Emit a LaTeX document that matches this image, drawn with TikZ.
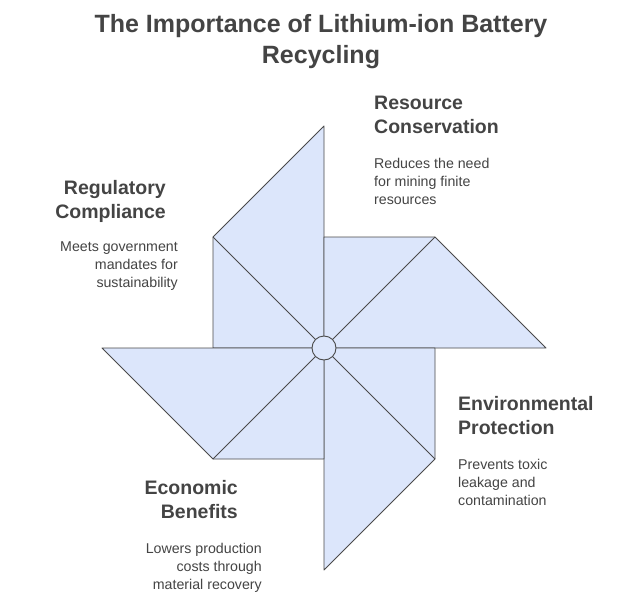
\documentclass[tikz,border=0pt]{standalone}
\usepackage{fontspec}
\setmainfont{Liberation Sans}
\definecolor{blade}{HTML}{DCE6FB}
\definecolor{edge}{HTML}{4A4A4A}
\definecolor{txt}{HTML}{444444}
\begin{document}
\begin{tikzpicture}[x=1pt,y=-1pt,
  bladest/.style={fill=blade,draw=edge,line width=0.9pt,line join=round},
  head/.style={font=\bfseries\fontsize{19.5}{24}\selectfont,text=txt,inner sep=0},
  body/.style={font=\fontsize{14.2}{18}\selectfont,text=txt,inner sep=0}]
\useasboundingbox[fill=white] (0,0) rectangle (633,616);
\coordinate (c) at (324,348);
\draw[bladest] (c) -- (213,348) -- (213,237) -- (324,126) -- cycle;
\draw[bladest] (c) -- (324,237) -- (435,237) -- (546,348) -- cycle;
\draw[bladest] (c) -- (435,348) -- (435,459) -- (324,570) -- cycle;
\draw[bladest] (c) -- (324,459) -- (213,459) -- (102,348) -- cycle;
\draw[edge,line width=0.9pt] (c) -- (213,237) (c) -- (435,237) (c) -- (435,459) (c) -- (213,459);
\node[circle,draw=edge,fill=blade,line width=0.9pt,minimum size=24pt,inner sep=0] (hub) at (c) {};
\node[font=\bfseries\fontsize{25}{31}\selectfont,text=txt,align=center] (title) at (321,42) {The Importance of Lithium-ion Battery\\Recycling};
\node[head,align=left,anchor=north west] (h1) at (374,96) {Resource\\Conservation};
\node[body,align=left,anchor=north west] (b1) at (374,158) {Reduces the need\\for mining finite\\resources};
\node[head,align=right,anchor=north east] (h2) at (166,180) {Regulatory\\Compliance};
\node[body,align=right,anchor=north east] (b2) at (178,242) {Meets government\\mandates for\\sustainability};
\node[head,align=left,anchor=north west] (h3) at (458,396) {Environmental\\Protection};
\node[body,align=left,anchor=north west] (b3) at (458,459) {Prevents toxic\\leakage and\\contamination};
\node[head,align=right,anchor=north east] (h4) at (238,480) {Economic\\Benefits};
\node[body,align=right,anchor=north east] (b4) at (262,543) {Lowers production\\costs through\\material recovery};
\end{tikzpicture}
\end{document}
